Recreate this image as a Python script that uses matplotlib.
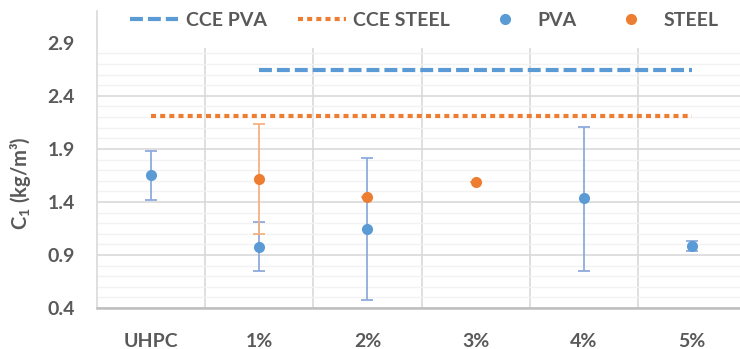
import numpy as np
import matplotlib.pyplot as plt
from matplotlib.patches import Rectangle

# categories and read-off values
categories = ['UHPC', '1%', '2%', '3%', '4%', '5%']

pva_x = [0, 1, 2, 4, 5]
pva_mean = [1.655, 0.978, 1.142, 1.435, 0.988]
pva_low = [1.42, 0.746, 0.475, 0.752, 0.935]
pva_high = [1.884, 1.214, 1.815, 2.11, 1.035]

steel_x = [1, 2, 3]
steel_mean = [1.617, 1.45, 1.586]
steel_low = [1.098, 1.45, 1.586]
steel_high = [2.136, 1.45, 1.586]

cce_pva_x = [1, 5]
cce_pva = [2.648, 2.648]
cce_steel_x = [0, 5]
cce_steel = [2.214, 2.214]

BLUE = '#5B9BD5'
ORANGE = '#ED7D31'
BLUE_ERR = '#8FAADC'
ORANGE_ERR = '#F4B183'
TEXT = '#595959'

plt.rcParams['font.family'] = ['Lato', 'DejaVu Sans']
plt.rcParams['font.weight'] = 'bold'
plt.rcParams['mathtext.fontset'] = 'custom'
plt.rcParams['mathtext.rm'] = 'Lato'
plt.rcParams['mathtext.bf'] = 'Lato:bold'

fig = plt.figure(figsize=(7.4, 3.49), dpi=100)
ax = fig.add_axes([97 / 740, 1 - 308 / 349, 649 / 740, 297 / 349])

# CCE reference lines
ax.plot(cce_pva_x, cce_pva, color=BLUE, lw=3, dashes=(3.1, 1.2),
        solid_capstyle='butt', dash_capstyle='butt', label='CCE PVA', zorder=2)
ax.plot(cce_steel_x, cce_steel, color=ORANGE, lw=3, dashes=(1.2, 1.0),
        dash_capstyle='butt', label='CCE STEEL', zorder=2)

# scatter points with error bars
pva_mean = np.array(pva_mean)
steel_mean = np.array(steel_mean)
pva_err = [pva_mean - np.array(pva_low), np.array(pva_high) - pva_mean]
steel_err = [steel_mean - np.array(steel_low), np.array(steel_high) - steel_mean]

ax.errorbar(pva_x, pva_mean, yerr=pva_err, fmt='none', ecolor=BLUE_ERR,
            elinewidth=1.3, capsize=4.5, capthick=1.3, zorder=3)
ax.errorbar(steel_x, steel_mean, yerr=steel_err, fmt='none', ecolor=ORANGE_ERR,
            elinewidth=1.3, capsize=4.5, capthick=1.3, zorder=3)
ax.plot(pva_x, pva_mean, 'o', color=BLUE, ms=8, mec='none', label='PVA', zorder=4)
ax.plot(steel_x, steel_mean, 'o', color=ORANGE, ms=8, mec='none', label='STEEL', zorder=4)

# axes styling
ax.set_xlim(-0.5, 5.5)
ax.set_ylim(0.4, 3.2)
ax.set_xticks(range(len(categories)))
ax.set_xticklabels(categories)
ax.set_xticks(np.arange(0.5, 6, 1), minor=True)
ax.set_yticks(np.arange(0.4, 3.0, 0.5))
ax.set_yticks(np.arange(0.4, 3.21, 0.1), minor=True)
ax.yaxis.set_major_formatter(plt.FuncFormatter(lambda v, p: f'{v:.1f}'))

ax.set_axisbelow(True)
ax.grid(axis='y', which='major', color='#D9D9D9', lw=1.2)
ax.grid(axis='y', which='minor', color='#F2F2F2', lw=1.0)
ax.grid(axis='x', which='minor', color='#D9D9D9', lw=1.2)
ax.grid(axis='x', which='major', visible=False)

ax.tick_params(which='both', length=0)
ax.tick_params(axis='both', labelsize=14, colors=TEXT, pad=16)
ax.tick_params(axis='x', pad=18)

for s in ['top', 'right']:
    ax.spines[s].set_visible(False)
ax.spines['left'].set_color('#D9D9D9')
ax.spines['left'].set_linewidth(1.2)
ax.spines['bottom'].set_color('#BFBFBF')
ax.spines['bottom'].set_linewidth(1.8)

ax.set_ylabel('C$_1$ (kg/m³)', fontsize=14.5, color=TEXT, fontweight='bold')
ax.yaxis.set_label_coords(-0.0986, 0.421)

# white legend area over the top of the plot
ax.add_patch(Rectangle((-0.49, 2.855), 6.2, 0.5, facecolor='white',
                       edgecolor='none', zorder=1.5))

leg = fig.legend(loc='upper left', bbox_to_anchor=(122 / 740, 1 - 4 / 349),
                 ncol=4, frameon=False, fontsize=14, handlelength=2.47,
                 handletextpad=0.4, columnspacing=1.6, borderaxespad=0)
for t in leg.get_texts():
    t.set_color(TEXT)

fig.savefig('out.png', dpi=100)
